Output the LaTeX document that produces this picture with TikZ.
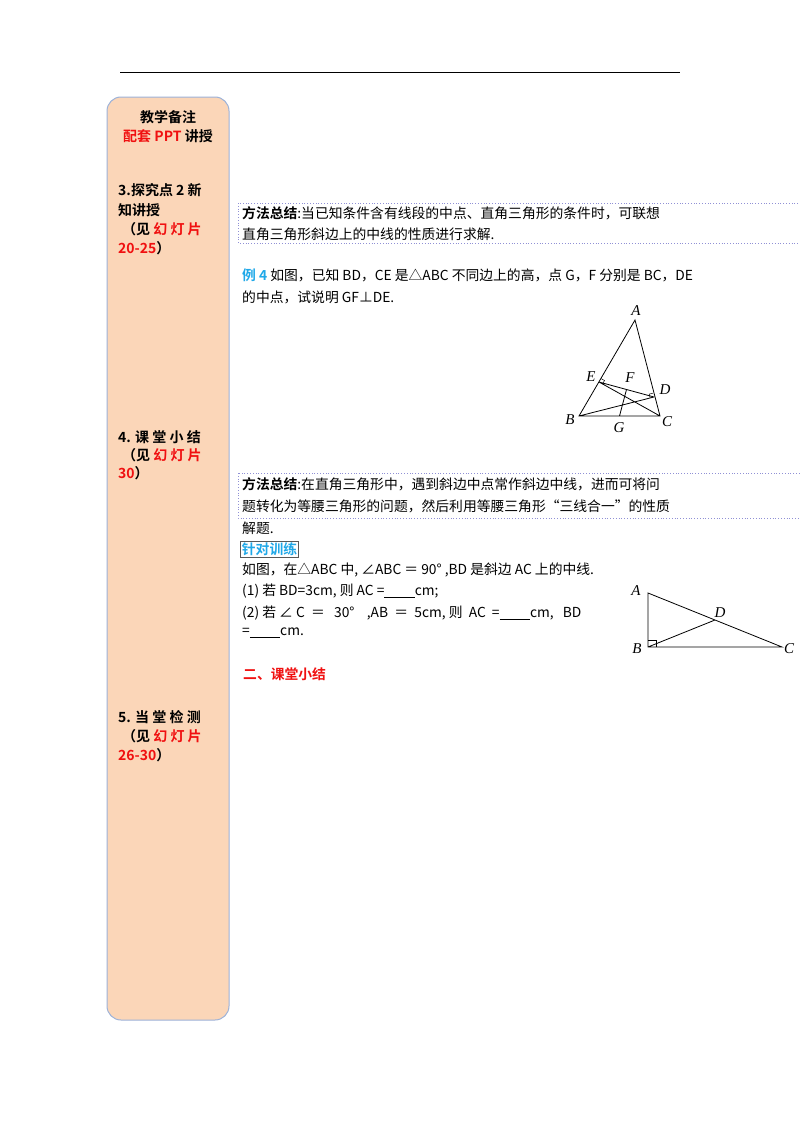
\documentclass[tikz,border=0pt]{standalone}
\usepackage{fontspec}
\usetikzlibrary{calc}
\setmainfont{Liberation Serif}
\newfontfamily\cjk{Noto Sans CJK SC}
\newfontfamily\cjkb{Noto Sans CJK SC Bold}
\begin{document}
\begin{tikzpicture}[x=1pt,y=-1pt,
  txt/.style={anchor=west,inner sep=0pt,font=\cjk\fontsize{13.8}{15}\selectfont},
  side/.style={anchor=west,inner sep=0pt,font=\cjkb\fontsize{14}{15}\selectfont},
  lbl/.style={inner sep=0pt,font=\itshape\fontsize{15}{16}\selectfont},
  dotbox/.style={draw=blue!45!gray!60,dotted,line width=0.8pt}]
\definecolor{peach}{HTML}{FBD6B8}
\definecolor{bord}{HTML}{9CB2D9}
\definecolor{myred}{HTML}{F01010}
\definecolor{mycyan}{HTML}{1FA8E8}
\useasboundingbox (0,0) rectangle (800,1132);
\fill[white] (0,0) rectangle (800,1132);
\draw[line width=0.8pt] (120,72) -- (680,72);
\draw[bord,fill=peach,line width=1pt,rounded corners=14pt] (107,97) rectangle (229,1020);
\node[side,anchor=center] (t1) at (168,117) {教学备注};
\node[side,anchor=center] (t2) at (168,136) {\textcolor{myred}{配套 PPT} 讲授};
\node[side] (s3a) at (118,190) {3.探究点 2 新};
\node[side] (s3b) at (118,210) {知讲授};
\node[side] (s3c) at (122,229) {（见 \textcolor{myred}{幻 灯 片}};
\node[side] (s3d) at (118,248) {\textcolor{myred}{20-25}）};
\node[side] (s4a) at (118,437) {4. 课 堂 小 结};
\node[side] (s4b) at (122,455) {（见 \textcolor{myred}{幻 灯 片}};
\node[side] (s4c) at (118,473) {\textcolor{myred}{30}）};
\node[side] (s5a) at (118,717) {5. 当 堂 检 测};
\node[side] (s5b) at (122,736) {（见 \textcolor{myred}{幻 灯 片}};
\node[side] (s5c) at (118,755) {\textcolor{myred}{26-30}）};
% box 1
\draw[dotbox] (238,203) rectangle (800,243);
\node[txt] (m1a) at (242,213) {{\cjkb 方法总结}:当已知条件含有线段的中点、直角三角形的条件时，可联想};
\node[txt] (m1b) at (242,234) {直角三角形斜边上的中线的性质进行求解.};
\node[txt] (e4a) at (242,275) {{\cjkb\textcolor{mycyan}{例 4}} 如图，已知 BD，CE 是△ABC 不同边上的高，点 G，F 分别是 BC，DE};
\node[txt] (e4b) at (242,297) {的中点，试说明 GF⊥DE.};
% triangle 1
\coordinate (A) at (635,320); \coordinate (B) at (579,416); \coordinate (C) at (660,416);
\coordinate (E) at (599,382); \coordinate (D) at (654,397);
\coordinate (F) at ($(E)!0.5!(D)$); \coordinate (G) at ($(B)!0.5!(C)$);
\draw[line width=0.8pt] (A)--(B)--(C)--cycle (B)--(D) (C)--(E) (E)--(D) (G)--(F);
\draw[line width=0.5pt] ($(E)!4pt!(A)$) -- ($(E)!4pt!(A)+(E)!4pt!(C)-(E)$) -- ($(E)!4pt!(C)$);
\draw[line width=0.5pt] ($(D)!4pt!(A)$) -- ($(D)!4pt!(A)+(D)!4pt!(B)-(D)$) -- ($(D)!4pt!(B)$);
\node[lbl] (lA) at (636,311) {A}; \node[lbl] (lE) at (591,377) {E};
\node[lbl] (lF) at (630,378) {F}; \node[lbl] (lD) at (665,390) {D};
\node[lbl] (lB) at (570,420) {B}; \node[lbl] (lG) at (619,428) {G};
\node[lbl] (lC) at (667,422) {C};
% box 2
\draw[dotbox] (238,473) rectangle (800,518);
\node[txt] (m2a) at (242,484) {{\cjkb 方法总结}:在直角三角形中，遇到斜边中点常作斜边中线，进而可将问};
\node[txt] (m2b) at (242,506) {题转化为等腰三角形的问题，然后利用等腰三角形“三线合一”的性质};
\node[txt] (m2c) at (242,528) {解题.};
\node[draw=gray!70!black,line width=0.8pt,inner sep=1.5pt,font=\cjkb\fontsize{13.8}{15}\selectfont,text=mycyan,anchor=west] (zd) at (240,549) {针对训练};
\node[txt] (p0) at (242,570) {如图，在△ABC 中, ∠ABC ＝ 90° ,BD 是斜边 AC 上的中线.};
\node[txt] (p1) at (242,591) {(1) 若 BD=3cm, 则 AC =\underline{\hspace{2.2em}}cm;};
\node[txt] (p2) at (242,613) {(2) 若 ∠ C \ ＝ \ \ 30° \ \ \ ,AB \ ＝ \ 5cm, 则 \ AC \ =\underline{\hspace{2.2em}}cm, \ \ BD};
\node[txt] (p3) at (242,633) {=\underline{\hspace{2.2em}}cm.};
% triangle 2
\coordinate (A2) at (648,593); \coordinate (B2) at (648,647); \coordinate (C2) at (782,647);
\coordinate (D2) at ($(A2)!0.5!(C2)$);
\draw[line width=0.8pt] (A2)--(B2)--(C2)--cycle (B2)--(D2);
\draw[line width=0.5pt] (648,640) -- (656,640) -- (656,647);
\node[lbl] (lA2) at (636,591) {A}; \node[lbl] (lD2) at (720,613) {D};
\node[lbl] (lB2) at (637,649) {B}; \node[lbl] (lC2) at (789,649) {C};
\node[txt,font=\cjkb\fontsize{13.8}{15}\selectfont,text=myred] (h2) at (243,674) {二、课堂小结};
\end{tikzpicture}
\end{document}
